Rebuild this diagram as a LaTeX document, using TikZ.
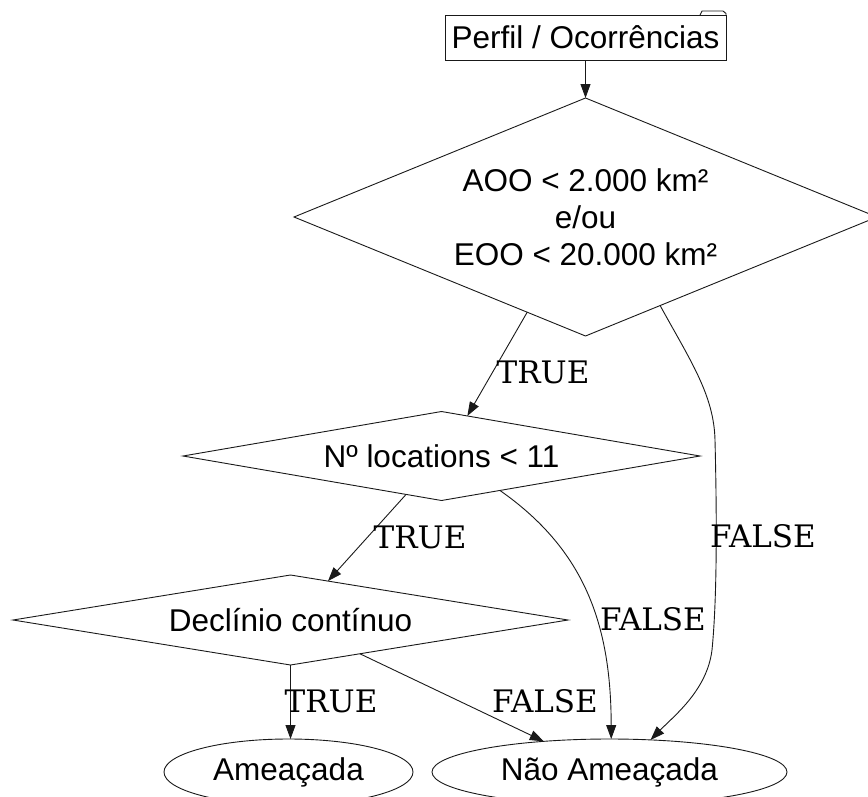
\documentclass[tikz,border=0pt]{standalone}
\usepackage{fontspec}
\setmainfont{Liberation Sans}
\newfontfamily\lblfont{DejaVu Serif}
\usetikzlibrary{shapes.geometric,arrows.meta,calc}
\begin{document}
\begin{tikzpicture}[x=1pt,y=-1pt,
  every node/.style={inner sep=0pt, outer sep=0pt, font=\fontsize{31.5}{37.2}\selectfont, text=black},
  dec/.style={shape=diamond, draw=black!90, line width=0.9pt},
  term/.style={shape=ellipse, draw=black!90, line width=0.9pt, minimum height=66pt},
  boxst/.style={shape=rectangle, draw=black!90, line width=0.9pt},
  lbl/.style={font=\lblfont\fontsize{31}{37}\selectfont},
  conn/.style={draw=black!90, line width=0.9pt, -{Triangle[length=14pt,width=10pt]}},
]
\useasboundingbox (0,0) rectangle (868,796);

% nodes
\node[boxst, minimum width=281pt, minimum height=45pt] (perfil) at (585.5,37.5) {Perfil / Ocorrências};
\draw[draw=black!90, line width=0.9pt] ($(perfil.north east)+(-26,0)$) -- ++(2,-4) -- ++(21,0) -- ($(perfil.north east)+(0,-1.5)$) -- (perfil.north east);

\node[dec, shape aspect=2.45, minimum width=583pt, minimum height=238pt, align=center] (aoo) at (585.5,217) {AOO < 2.000 km²\\e/ou\\EOO < 20.000 km²};
\node[dec, shape aspect=5.8, minimum width=517pt, minimum height=89pt] (nloc) at (441.5,456) {Nº locations < 11};
\node[dec, shape aspect=6.17, minimum width=555pt, minimum height=90pt] (decl) at (290.5,620) {Declínio contínuo};
\node[term, minimum width=249pt] (ame) at (288.5,772) {Ameaçada};
\node[term, minimum width=355pt] (nao) at (609.5,772) {Não Ameaçada};

% connectors
\draw[conn] (perfil.south) -- (aoo.north);
\draw[conn] ($(aoo.west)!0.80!(aoo.south)$) -- ($(nloc.north)!0.1!(nloc.east)$);
\draw[conn] ($(aoo.south)!0.256!(aoo.east)$) .. controls (690,360) and (714,395) .. (715,440)
   .. controls (717,520) and (717,600) .. (712,650)
   .. controls (707,690) and (675,715) .. (nao.38);
\draw[conn] ($(nloc.west)!0.863!(nloc.south)$) -- ($(decl.north)!0.135!(decl.east)$);
\draw[conn] ($(nloc.south)!0.226!(nloc.east)$) .. controls (585,550) and (611,625) .. (nao.87);
\draw[conn] (decl.south) -- (decl.south |- ame.north);
\draw[conn] ($(decl.south)!0.25!(decl.east)$) -- (nao.155);

% labels
\node[lbl] (t1) at (543,372) {TRUE};
\node[lbl] (f1) at (763,536) {FALSE};
\node[lbl] (t2) at (420,537) {TRUE};
\node[lbl] (f2) at (653,619) {FALSE};
\node[lbl] (t3) at (331,701) {TRUE};
\node[lbl] (f3) at (545,701) {FALSE};
\end{tikzpicture}
\end{document}
